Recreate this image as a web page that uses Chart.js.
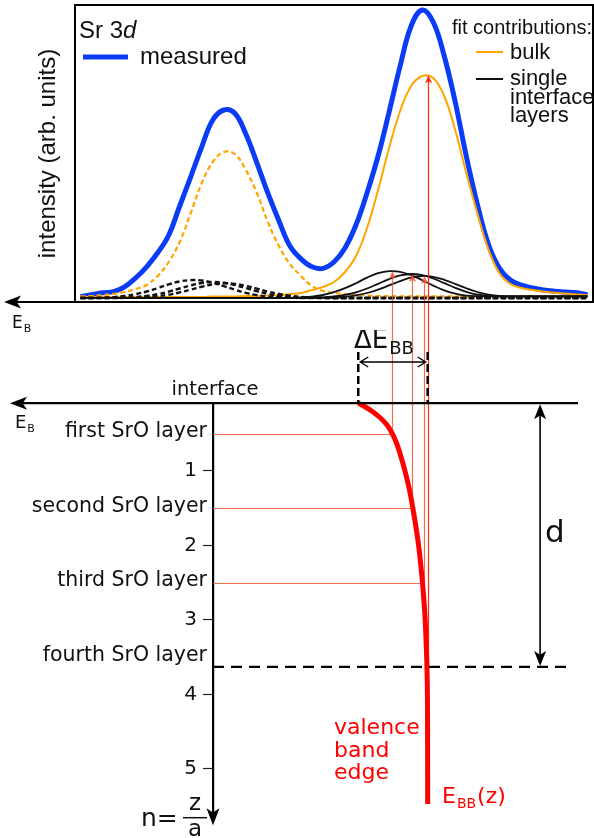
<!DOCTYPE html>
<html>
<head>
<meta charset="utf-8">
<script src="https://cdn.jsdelivr.net/npm/chart.js@4.4.1/dist/chart.umd.min.js"></script>
<style>
  html, body { margin: 0; padding: 0; background: #fff; }
  #wrap { position: relative; width: 594px; height: 838px; overflow: hidden; }
  #spectrum { position: absolute; left: 0; top: 0; }
  #bands { position: absolute; left: 0; top: 330px; }
</style>
</head>
<body>
<div id="wrap">
  <canvas id="spectrum" width="594" height="340"></canvas>
  <canvas id="bands" width="594" height="508"></canvas>
</div>
<script>
// binding energy grid of the Sr 3d spectrum (eV)
const energy = [136.15, 136.05, 135.95, 135.85, 135.75, 135.65, 135.55, 135.45, 135.35, 135.25,
  135.15, 135.05, 134.95, 134.85, 134.75, 134.65, 134.55, 134.45, 134.35, 134.25,
  134.15, 134.05, 133.95, 133.85, 133.75, 133.65, 133.55, 133.45, 133.35, 133.25,
  133.15, 133.05, 132.95, 132.85, 132.75, 132.65, 132.55, 132.45, 132.35, 132.25,
  132.15, 132.05, 131.95, 131.85, 131.75, 131.65, 131.55];

// intensities (arb. units)
const measured = [3, 8, 13, 16, 28, 50, 78, 113, 157, 230,
  303, 378, 445, 470, 462, 410, 338, 262, 193, 130,
  98, 78, 74, 90, 125, 183, 263, 355, 465, 580,
  680, 720, 690, 605, 490, 355, 235, 135, 75, 45,
  32, 25, 20, 17, 15, 13, 8];
// bulk fit, 3d5/2 (solid) and 3d3/2 (dashed)
const bulkD52 = [2.5, 2.5, 2.5, 2.5, 2.5, 2.5, 2.5, 2.5, 2.5, 2.5,
  2.5, 2.5, 3.75, 3.75, 3.75, 5, 5, 6.25, 7.5, 10,
  12.5, 20, 27.5, 40, 65, 105, 175, 270, 375, 467.5,
  530, 555, 550, 505, 420, 312.5, 212.5, 122.5, 62, 35,
  25, 20, 16, 13, 11, 9, 7];
const bulkD32 = [4, 5, 7.5, 10, 15, 22.5, 32.5, 55, 90, 140,
  212.5, 287.5, 340, 365, 360, 320, 262.5, 190, 130, 85,
  55, 30, 17.5, 12.5, 10, 7.5, 6, 5, 5, 4,
  4, 4, 4, 4, 4, 4, 4, 4, 4, 4,
  4, 4, 4, 4, 4, 4, 4];
// single interface layer fits, 3d5/2
const iface1D52 = [0, 0, 0, 0, 0, 0, 0, 0, 0, 0, 0, 0, 0, 0, 0, 0, 0, 0, 0, 0,
  1.5, 3.5, 7.5, 14.5, 24.5, 37, 51, 62, 67, 65.5,
  57, 44.5, 31, 19, 11, 6, 4.5, 4, 4, 4,
  4, 4, 4, 4, 4, 4, 4];
const iface2D52 = [0, 0, 0, 0, 0, 0, 0, 0, 0, 0, 0, 0, 0, 0, 0, 0, 0, 0, 0, 0,
  0, 0.6, 1.5, 3.8, 7.8, 14.3, 23.8, 35.5, 47.3, 56.3,
  60, 57.3, 48.8, 37.3, 25.5, 15.5, 8.5, 5.5, 4, 4,
  4, 4, 4, 4, 4, 4, 4];
const iface3D52 = [0, 0, 0, 0, 0, 0, 0, 0, 0, 0, 0, 0, 0, 0, 0, 0, 0, 0, 0, 0,
  0, 0, 0.5, 1.3, 3.1, 6.5, 12.5, 21, 31.5, 42.3,
  51, 55, 53, 45.5, 35.3, 24.3, 15, 8.3, 5.5, 4,
  4, 4, 4, 4, 4, 4, 4];
// single interface layer fits, 3d3/2
const iface1D32 = [0, 0, 1, 2.3, 5, 9.7, 16.3, 24.7, 34, 41.3,
  44.7, 43.7, 38, 29.7, 20.7, 12.7, 7.3, 3.7, 1.5, 0.7,
  0, 0, 0, 0, 0, 0, 0, 0, 0, 0, 0, 0, 0, 0, 0, 0, 0, 0, 0, 0, 0, 0, 0, 0, 0, 0, 0];
const iface2D32 = [0, 0, 0, 0.4, 1, 2.5, 5.2, 9.5, 15.9, 23.7,
  31.5, 37.5, 40, 38.2, 32.5, 24.9, 17, 10.3, 5.7, 2.9,
  1.2, 0.5, 0, 0, 0, 0, 0, 0, 0, 0, 0, 0, 0, 0, 0, 0, 0, 0, 0, 0, 0, 0, 0, 0, 0, 0, 0];
const iface3D32 = [0, 0, 0, 0, 0.3, 0.9, 2.1, 4.3, 8.3, 14,
  21, 28.2, 34, 36.7, 35.3, 30.3, 23.5, 16.2, 10, 5.5,
  2.7, 1.2, 0.5, 0, 0, 0, 0, 0, 0, 0, 0, 0, 0, 0, 0, 0, 0, 0, 0, 0, 0, 0, 0, 0, 0, 0, 0];

// 3d5/2 peak positions: interface layers 1-3, then bulk
const peakE = [133.32, 133.14, 133.03, 133.0];
const peakI = [67.5, 60, 55, 557];

// band diagram: depth n = z/a
const layerN = [0.5, 1.5, 2.5];
const layerLabelN = [0.5, 1.5, 2.5, 3.5];
const layerNames = ['first SrO layer', 'second SrO layer', 'third SrO layer', 'fourth SrO layer'];
const depthTicks = [1, 2, 3, 4, 5];
const bandE = [133.629, 133.564, 133.496, 133.428, 133.369, 133.324, 133.283, 133.247, 133.208,
  133.165, 133.124, 133.083, 133.052, 133.028, 133.013, 133.004, 133.001, 133.0];
const bandN = [0.09, 0.141, 0.208, 0.289, 0.383, 0.49, 0.624, 0.785, 0.987,
  1.255, 1.591, 1.993, 2.423, 2.866, 3.336, 3.805, 4.477, 5.47];
const interfaceE = 133.63;
const bulkE = 133.0;
const dDepthN = 3.63;
const dArrowE = 131.98;

const X_MIN = 131.5, X_MAX = 136.2;
const BOX_LEFT = 75, BOX_RIGHT = 593, BOX_BOTTOM = 302, AXIS_N_X = 213;
const X_MAX_BANDS = X_MAX - (AXIS_N_X - BOX_LEFT) * (X_MAX - X_MIN) / (BOX_RIGHT - BOX_LEFT);
const N_TOP = 0.09, N_BOTTOM = 5.58;

const BLUE = '#0a3cf5', ORANGE = '#ffa500', BLACK = '#111111', RED = '#ff0000';
const RED_GUIDE = 'rgba(238,85,50,0.85)', RED_BULK = '#ff2a0a';
const SANS_TOP = '"Liberation Sans", Arial, sans-serif';
const SANS_BOT = '"DejaVu Sans", Verdana, sans-serif';

const pts = s => energy.map((e, i) => ({ x: e, y: s[i] }));

function arrowHead(ctx, tx, ty, ang, len, half) {
  const c = Math.cos(ang), s = Math.sin(ang);
  const bx = tx - len * c, by = ty - len * s;
  const nx = -s * half, ny = c * half;
  ctx.beginPath();
  ctx.moveTo(tx, ty);
  ctx.lineTo(bx + nx, by + ny);
  ctx.lineTo(tx - len * 0.75 * c, ty - len * 0.75 * s);
  ctx.lineTo(bx - nx, by - ny);
  ctx.closePath();
  ctx.fill();
}

function subText(ctx, x, y, main, sub, size, subSize, family) {
  ctx.font = size + 'px ' + family;
  ctx.fillText(main, x, y);
  const w = ctx.measureText(main).width;
  ctx.font = subSize + 'px ' + family;
  ctx.fillText(sub, x + w + 1, y + size * 0.22);
  return x + w + 1 + ctx.measureText(sub).width;
}

// frame, legend and guide arrows of the spectrum
const spectrumDecor = {
  id: 'spectrumDecor',
  afterDatasetsDraw(chart) {
    const { ctx, chartArea: a, scales: { x, y } } = chart;
    ctx.save();
    peakE.forEach((e, i) => {
      const px = Math.round(x.getPixelForValue(e)) + 0.5;
      const py = y.getPixelForValue(peakI[i]);
      const col = i === peakE.length - 1 ? RED_BULK : RED_GUIDE;
      ctx.strokeStyle = col;
      ctx.fillStyle = col;
      ctx.lineWidth = 1.2;
      ctx.beginPath();
      ctx.moveTo(px, py + 5);
      ctx.lineTo(px, chart.height);
      ctx.stroke();
      arrowHead(ctx, px, py, -Math.PI / 2, 8, 3.5);
    });

    ctx.strokeStyle = '#000';
    ctx.fillStyle = '#000';
    ctx.lineWidth = 2;
    ctx.beginPath();
    ctx.moveTo(a.left, a.top);
    ctx.lineTo(a.right, a.top);
    ctx.lineTo(a.right, a.bottom);
    ctx.lineTo(14, a.bottom);
    ctx.stroke();
    arrowHead(ctx, 4, a.bottom, Math.PI, 17, 6.5);
    ctx.fillStyle = BLACK;
    subText(ctx, 12, 328, 'E', 'B', 17, 11, SANS_BOT);

    // legend
    ctx.fillStyle = BLACK;
    ctx.textBaseline = 'alphabetic';
    ctx.font = '24px ' + SANS_TOP;
    ctx.fillText('Sr 3', 79, 38);
    const w = ctx.measureText('Sr 3').width;
    ctx.font = 'italic 24px ' + SANS_TOP;
    ctx.fillText('d', 79 + w, 38);

    ctx.strokeStyle = BLUE;
    ctx.lineWidth = 5;
    ctx.beginPath();
    ctx.moveTo(83, 57);
    ctx.lineTo(128, 57);
    ctx.stroke();
    ctx.font = '24px ' + SANS_TOP;
    ctx.fillText('measured', 140, 64);

    ctx.font = '20px ' + SANS_TOP;
    ctx.fillText('fit contributions:', 452, 34);
    ctx.lineWidth = 2;
    ctx.strokeStyle = ORANGE;
    ctx.beginPath();
    ctx.moveTo(476, 52);
    ctx.lineTo(503, 52);
    ctx.stroke();
    ctx.strokeStyle = BLACK;
    ctx.beginPath();
    ctx.moveTo(476, 79);
    ctx.lineTo(503, 79);
    ctx.stroke();
    ctx.font = '22px ' + SANS_TOP;
    ctx.fillText('bulk', 510, 59);
    ctx.fillText('single', 510, 85);
    ctx.fillText('interface', 510, 104);
    ctx.fillText('layers', 510, 122);
    ctx.restore();
  }
};

// guide lines drawn under the band edge
const bandGuides = {
  id: 'bandGuides',
  beforeDatasetsDraw(chart) {
    const { ctx, chartArea: a, scales: { x, y } } = chart;
    ctx.save();
    ctx.strokeStyle = RED_GUIDE;
    ctx.lineWidth = 1.2;
    layerN.forEach((n, i) => {
      const px = Math.round(x.getPixelForValue(peakE[i])) + 0.5;
      const py = Math.round(y.getPixelForValue(n)) + 0.5;
      ctx.beginPath();
      ctx.moveTo(a.left, py);
      ctx.lineTo(px, py);
      ctx.moveTo(px, 10);
      ctx.lineTo(px, py);
      ctx.stroke();
    });
    const bx = Math.round(x.getPixelForValue(peakE[3])) + 0.5;
    ctx.strokeStyle = RED_BULK;
    ctx.beginPath();
    ctx.moveTo(bx, 10);
    ctx.lineTo(bx, y.getPixelForValue(dDepthN));
    ctx.stroke();
    ctx.restore();
  }
};

// axes arrows, labels and annotations of the band diagram
const bandDecor = {
  id: 'bandDecor',
  afterDatasetsDraw(chart) {
    const { ctx, chartArea: a, scales: { x, y } } = chart;
    ctx.save();
    ctx.strokeStyle = '#000';
    ctx.fillStyle = '#000';

    // E_B axis
    ctx.lineWidth = 2.2;
    ctx.beginPath();
    ctx.moveTo(20, a.top);
    ctx.lineTo(578, a.top);
    ctx.stroke();
    arrowHead(ctx, 10, a.top, Math.PI, 17, 6.5);
    ctx.fillStyle = BLACK;
    subText(ctx, 15, a.top + 25, 'E', 'B', 18, 11, SANS_BOT);
    ctx.font = '19.5px ' + SANS_BOT;
    ctx.textAlign = 'center';
    ctx.fillText('interface', 215, a.top - 8);

    // depth axis arrow and label
    ctx.fillStyle = '#000';
    arrowHead(ctx, a.left, a.bottom + 13, Math.PI / 2, 17, 6.5);
    ctx.fillStyle = BLACK;
    ctx.textAlign = 'left';
    ctx.font = '25px ' + SANS_BOT;
    ctx.fillText('n=', 141, a.bottom + 14);
    ctx.textAlign = 'center';
    ctx.font = '23px ' + SANS_BOT;
    ctx.fillText('z', 195, a.bottom - 2);
    ctx.fillText('a', 195, a.bottom + 24);
    ctx.lineWidth = 1.5;
    ctx.strokeStyle = BLACK;
    ctx.beginPath();
    ctx.moveTo(183, a.bottom + 5.5);
    ctx.lineTo(207, a.bottom + 5.5);
    ctx.stroke();

    // layer names
    ctx.textAlign = 'right';
    ctx.textBaseline = 'middle';
    ctx.font = '20.5px ' + SANS_BOT;
    layerLabelN.forEach((n, i) => ctx.fillText(layerNames[i], 207, y.getPixelForValue(n) - 2));
    ctx.textBaseline = 'alphabetic';

    // depth d of the band bending region
    const yd = y.getPixelForValue(dDepthN);
    ctx.strokeStyle = '#000';
    ctx.lineWidth = 2.2;
    ctx.setLineDash([11, 7]);
    ctx.beginPath();
    ctx.moveTo(a.left, yd);
    ctx.lineTo(573, yd);
    ctx.stroke();
    ctx.setLineDash([]);
    const xd = x.getPixelForValue(dArrowE);
    ctx.lineWidth = 1.6;
    ctx.beginPath();
    ctx.moveTo(xd, a.top + 10);
    ctx.lineTo(xd, yd - 10);
    ctx.stroke();
    ctx.fillStyle = '#000';
    arrowHead(ctx, xd, a.top + 1, -Math.PI / 2, 15, 6);
    arrowHead(ctx, xd, yd - 1, Math.PI / 2, 15, 6);
    ctx.fillStyle = BLACK;
    ctx.textAlign = 'left';
    ctx.font = '31px ' + SANS_BOT;
    ctx.fillText('d', 545, 212);

    // band bending amplitude
    const x0 = x.getPixelForValue(interfaceE), x1 = x.getPixelForValue(bulkE);
    ctx.lineWidth = 2.5;
    ctx.setLineDash([8, 4]);
    ctx.beginPath();
    ctx.moveTo(x0, 22);
    ctx.lineTo(x0, a.top);
    ctx.moveTo(x1, 22);
    ctx.lineTo(x1, a.top);
    ctx.stroke();
    ctx.setLineDash([]);
    ctx.lineWidth = 1.4;
    ctx.beginPath();
    ctx.moveTo(x0 + 2, 32);
    ctx.lineTo(x1 - 2, 32);
    ctx.moveTo(x0 + 10, 27);
    ctx.lineTo(x0 + 2, 32);
    ctx.lineTo(x0 + 10, 37);
    ctx.moveTo(x1 - 10, 27);
    ctx.lineTo(x1 - 2, 32);
    ctx.lineTo(x1 - 10, 37);
    ctx.stroke();
    ctx.fillStyle = BLACK;
    subText(ctx, 354, 18, '\u0394E', 'BB', 26, 18, SANS_BOT);

    // valence band edge labels
    ctx.fillStyle = RED;
    ctx.font = '22px ' + SANS_BOT;
    ctx.fillText('valence', 334, 404);
    ctx.fillText('band', 334, 426.5);
    ctx.fillText('edge', 334, 449);
    const xe = subText(ctx, 442, 473, 'E', 'BB', 22, 14, SANS_BOT);
    ctx.font = '22px ' + SANS_BOT;
    ctx.fillText('(z)', xe + 1, 473);
    ctx.restore();
  }
};

new Chart(document.getElementById('spectrum'), {
  type: 'line',
  data: {
    datasets: [
      { label: 'interface layer 1', data: pts(iface1D52), borderColor: BLACK, borderWidth: 1.8 },
      { label: 'interface layer 2', data: pts(iface2D52), borderColor: BLACK, borderWidth: 1.8 },
      { label: 'interface layer 3', data: pts(iface3D52), borderColor: BLACK, borderWidth: 1.8 },
      { label: 'interface layer 1 (3d3/2)', data: pts(iface1D32), borderColor: BLACK, borderWidth: 2.4, borderDash: [5, 3] },
      { label: 'interface layer 2 (3d3/2)', data: pts(iface2D32), borderColor: BLACK, borderWidth: 2.4, borderDash: [5, 3] },
      { label: 'interface layer 3 (3d3/2)', data: pts(iface3D32), borderColor: BLACK, borderWidth: 2.4, borderDash: [5, 3] },
      { label: 'bulk', data: pts(bulkD52), borderColor: ORANGE, borderWidth: 2 },
      { label: 'bulk (3d3/2)', data: pts(bulkD32), borderColor: ORANGE, borderWidth: 2.2, borderDash: [5, 3] },
      { label: 'measured', data: pts(measured), borderColor: BLUE, borderWidth: 5 }
    ]
  },
  options: {
    responsive: false,
    animation: false,
    layout: { padding: { left: 0, right: 594 - BOX_RIGHT, top: 5, bottom: 340 - BOX_BOTTOM } },
    elements: {
      point: { radius: 0 },
      line: { tension: 0.4, fill: false, borderJoinStyle: 'round' }
    },
    plugins: { legend: { display: false }, tooltip: { enabled: false } },
    scales: {
      x: { type: 'linear', reverse: true, min: X_MIN, max: X_MAX, display: false },
      y: {
        min: -10,
        max: 732.5,
        position: 'left',
        ticks: { display: false },
        grid: { display: false },
        border: { display: true, color: '#000', width: 2 },
        title: {
          display: true,
          text: 'intensity (arb. units)',
          color: BLACK,
          font: { family: SANS_TOP, size: 24 },
          padding: { top: 34, bottom: 0 }
        },
        afterFit: s => { s.width = BOX_LEFT; }
      }
    }
  },
  plugins: [spectrumDecor]
});

new Chart(document.getElementById('bands'), {
  type: 'line',
  data: {
    datasets: [{
      label: 'valence band edge',
      data: bandE.map((e, i) => ({ x: e, y: bandN[i] })),
      indexAxis: 'y',
      borderColor: RED,
      borderWidth: 5,
      pointRadius: 0,
      cubicInterpolationMode: 'monotone',
      clip: false
    }]
  },
  options: {
    responsive: false,
    animation: false,
    layout: { padding: { left: 0, right: 594 - BOX_RIGHT, top: 73.2, bottom: 25.8 } },
    plugins: { legend: { display: false }, tooltip: { enabled: false } },
    scales: {
      x: { type: 'linear', reverse: true, min: X_MIN, max: X_MAX_BANDS, display: false },
      y: {
        min: N_TOP,
        max: N_BOTTOM,
        reverse: true,
        position: 'left',
        afterFit: s => { s.width = AXIS_N_X; },
        afterBuildTicks: s => { s.ticks = depthTicks.map(v => ({ value: v })); },
        ticks: { color: BLACK, font: { family: SANS_BOT, size: 20 }, padding: 6, callback: v => String(v) },
        grid: { drawOnChartArea: false, tickLength: 10, color: '#222', tickWidth: 1.2 },
        border: { display: true, color: '#000', width: 2.2 }
      }
    }
  },
  plugins: [bandGuides, bandDecor]
});
</script>
</body>
</html>
